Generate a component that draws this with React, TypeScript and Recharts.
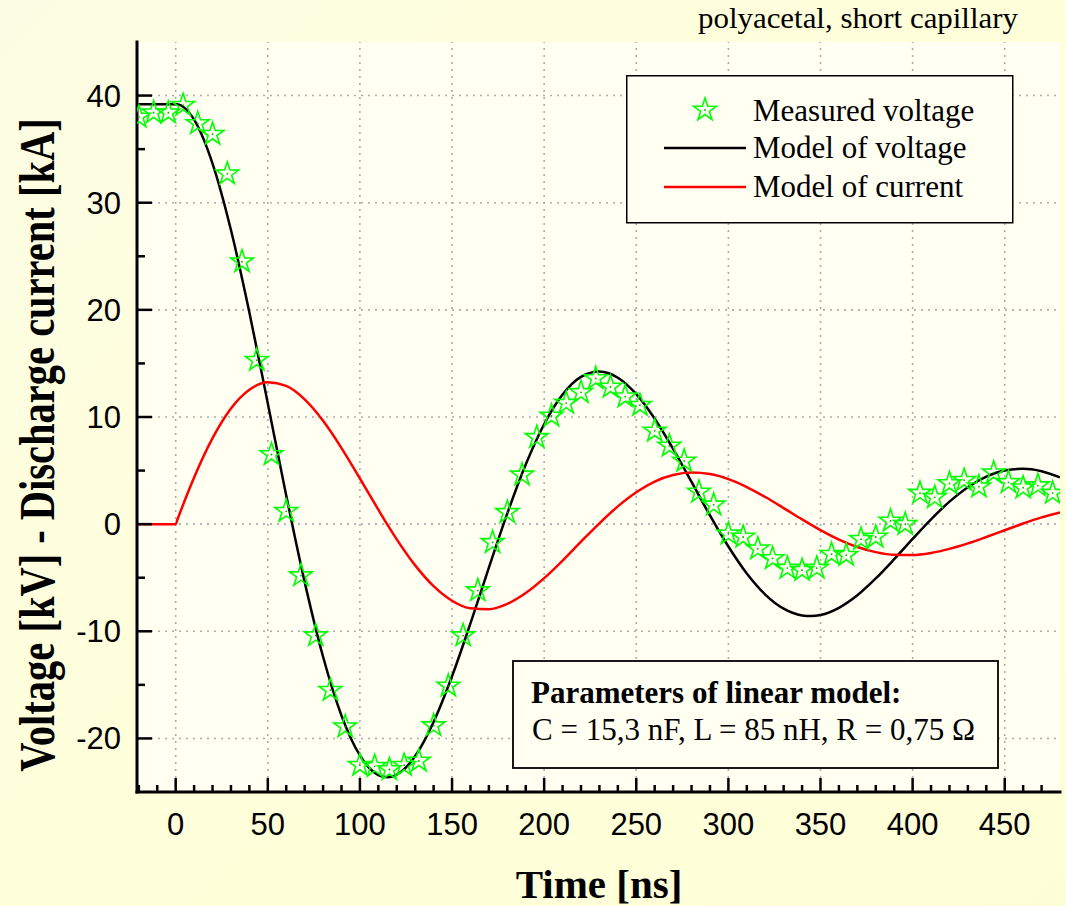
import React from "react";
import {
  ComposedChart,
  Line,
  Scatter,
  XAxis,
  YAxis,
  CartesianGrid,
  ReferenceLine,
  Legend,
  Label,
} from "recharts";

// measured capacitor voltage (oscilloscope samples, 8 ns apart)
const measuredTime = [
  -20, -12, -4, 4, 12, 20, 28, 36, 44, 52, 60, 68, 76, 84, 92, 100, 108, 116, 124, 132, 140, 148,
  156, 164, 172, 180, 188, 196, 204, 212, 220, 228, 236, 244, 252, 260, 268, 276, 284, 292, 300,
  308, 316, 324, 332, 340, 348, 356, 364, 372, 380, 388, 396, 404, 412, 420, 428, 436, 444, 452,
  460, 468, 476,
];
const measuredVoltage = [
  38.0, 38.4, 38.4, 39.1, 37.4, 36.4, 32.7, 24.5, 15.3, 6.5, 1.2, -4.8, -10.4, -15.5, -18.9, -22.5,
  -22.6, -22.9, -22.5, -22.1, -18.8, -15.1, -10.4, -6.2, -1.7, 1.1, 4.6, 8.1, 10.1, 11.3, 12.3, 13.6,
  12.8, 11.9, 11.1, 8.7, 7.3, 5.9, 3.0, 1.8, -0.9, -1.2, -2.3, -3.2, -4.1, -4.3, -4.1, -2.8, -2.9,
  -1.4, -1.2, 0.3, 0.0, 2.9, 2.5, 3.8, 4.1, 3.5, 4.8, 3.9, 3.4, 3.6, 2.9,
];

// linear RLC model curves
const modelTime = [
  -21, 0, 1, 5, 10, 20, 30, 40, 50, 60, 70, 80, 90, 100, 110, 115, 120, 130, 140, 150, 160, 170,
  180, 190, 200, 210, 220, 230, 240, 250, 260, 270, 280, 290, 300, 310, 320, 330, 340, 345, 350,
  360, 370, 380, 390, 400, 410, 420, 430, 440, 450, 460, 470, 480,
];
const modelVoltage = [
  39.2, 39.2, 39.19, 38.83, 37.75, 33.65, 27.45, 19.76, 11.27, 2.68, -5.39, -12.38, -17.87, -21.59,
  -23.42, -23.63, -23.38, -21.64, -18.46, -14.2, -9.26, -4.06, 1.0, 5.56, 9.32, 12.09, 13.74, 14.24,
  13.66, 12.13, 9.84, 7.03, 3.94, 0.82, -2.09, -4.61, -6.57, -7.89, -8.52, -8.58, -8.48, -7.81,
  -6.64, -5.07, -3.27, -1.38, 0.45, 2.1, 3.45, 4.43, 5.01, 5.17, 4.94, 4.37,
];
const modelCurrent = [
  0, 0, 0.46, 2.25, 4.36, 8.03, 10.8, 12.55, 13.24, 12.9, 11.64, 9.64, 7.1, 4.26, 1.35, -0.07,
  -1.42, -3.85, -5.79, -7.15, -7.86, -7.94, -7.44, -6.43, -5.04, -3.4, -1.64, 0.08, 1.66, 2.98, 3.97,
  4.58, 4.81, 4.67, 4.2, 3.46, 2.53, 1.5, 0.44, -0.07, -0.56, -1.44, -2.13, -2.61, -2.86, -2.88,
  -2.69, -2.31, -1.8, -1.2, -0.57, 0.06, 0.63, 1.1,
];

const xTicks = [
  -20, -10, 0, 10, 20, 30, 40, 50, 60, 70, 80, 90, 100, 110, 120, 130, 140, 150, 160, 170, 180, 190,
  200, 210, 220, 230, 240, 250, 260, 270, 280, 290, 300, 310, 320, 330, 340, 350, 360, 370, 380,
  390, 400, 410, 420, 430, 440, 450, 460, 470,
];
const xMajor = [0, 50, 100, 150, 200, 250, 300, 350, 400, 450];
const yTicks = [-20, -15, -10, -5, 0, 5, 10, 15, 20, 25, 30, 35, 40];
const yMajor = [-20, -10, 0, 10, 20, 30, 40];

const measuredData = measuredTime.map((t, i) => ({ t, v: measuredVoltage[i] }));
const modelData = modelTime.map((t, i) => ({ t, voltage: modelVoltage[i], current: modelCurrent[i] }));

const SANS = "'Liberation Sans', Arial, sans-serif";
const SERIF = "'Liberation Serif', 'Times New Roman', serif";
const PLOT_BG = "#fffff2";
const GREEN = "#00ff00";
const X_DOMAIN = [-21, 480];
const Y_DOMAIN = [-25, 45];

function starPoints(cx: number, cy: number, R = 12, r = 4.6) {
  const pts: string[] = [];
  for (let k = 0; k < 10; k++) {
    const a = (-90 + k * 36) * (Math.PI / 180);
    const rad = k % 2 === 0 ? R : r;
    pts.push(`${cx + rad * Math.cos(a)},${cy + rad * Math.sin(a)}`);
  }
  return pts.join(" ");
}

const StarGlyph = ({ cx, cy }: { cx: number; cy: number }) => (
  <g>
    <polygon points={starPoints(cx, cy)} fill="none" stroke={GREEN} strokeWidth={1.6} />
    <circle cx={cx} cy={cy} r={0.9} fill="#00b000" />
  </g>
);

const StarShape = (props: any) => {
  const { cx, cy } = props;
  if (cx == null || cy == null) return null;
  return <StarGlyph cx={cx} cy={cy} />;
};

// inward ticks: long at majors, short at minors
const BottomTick = ({ x, y, payload }: any) => {
  const major = payload.value % 50 === 0;
  return (
    <g>
      <line x1={x} y1={y} x2={x} y2={y - (major ? 14 : 7)} stroke="#000" strokeWidth={2.5} />
      {major && (
        <text x={x} y={y + 43} textAnchor="middle" fontSize={31} fontFamily={SANS} fill="#000">
          {payload.value}
        </text>
      )}
    </g>
  );
};

const TopTick = ({ x, y, payload }: any) => {
  const major = payload.value % 50 === 0;
  return <line x1={x} y1={y} x2={x} y2={y + (major ? 14 : 7)} stroke="#000" strokeWidth={2.5} />;
};

const LeftTick = ({ x, y, payload }: any) => {
  const major = payload.value % 10 === 0;
  return (
    <g>
      <line x1={x} y1={y} x2={x + (major ? 15 : 8)} y2={y} stroke="#000" strokeWidth={2.5} />
      {major && (
        <text x={x - 16} y={y + 11} textAnchor="end" fontSize={31} fontFamily={SANS} fill="#000">
          {payload.value}
        </text>
      )}
    </g>
  );
};

const RightTick = ({ x, y, payload }: any) => {
  const major = payload.value % 10 === 0;
  return <line x1={x} y1={y} x2={x - (major ? 15 : 8)} y2={y} stroke="#000" strokeWidth={2.5} />;
};

const LegendBox = () => (
  <svg width={388} height={149} style={{ display: "block" }}>
    <rect x={0.75} y={0.75} width={386} height={147} fill={PLOT_BG} stroke="#000" strokeWidth={1.5} />
    <StarGlyph cx={79} cy={35} />
    <text x={127} y={46} fontSize={31} fontFamily={SERIF} fill="#000">Measured voltage</text>
    <line x1={38} x2={120} y1={73} y2={73} stroke="#000" strokeWidth={2.5} />
    <text x={127} y={83} fontSize={31} fontFamily={SERIF} fill="#000">Model of voltage</text>
    <line x1={38} x2={120} y1={112} y2={112} stroke="#ff0000" strokeWidth={2.5} />
    <text x={127} y={122} fontSize={31} fontFamily={SERIF} fill="#000">Model of current</text>
  </svg>
);

const axisLine = { stroke: "#000", strokeWidth: 3, strokeLinecap: "square" as const };
const gridStyle = { stroke: "#acacac", strokeWidth: 1.6, strokeDasharray: "2 5" };

export default function App() {
  return (
    <div
      style={{
        position: "absolute",
        left: 0,
        top: 0,
        width: 1066,
        height: 906,
        background: "linear-gradient(135deg, #fcfce4 0%, #ffffdb 45%, #fefed6 100%)",
      }}
    >
      <ComposedChart
        width={1066}
        height={906}
        data={modelData}
        margin={{ top: 42, right: 6, left: 77, bottom: 74 }}
      >
        <CartesianGrid
          xAxisId="x"
          yAxisId="y"
          fill={PLOT_BG}
          fillOpacity={1}
          horizontal={false}
          vertical={false}
        />
        <XAxis
          xAxisId="x"
          dataKey="t"
          type="number"
          domain={X_DOMAIN}
          allowDataOverflow
          ticks={xTicks}
          interval={0}
          tick={<BottomTick />}
          tickLine={false}
          tickSize={0}
          tickMargin={0}
          axisLine={axisLine}
          height={40}
        >
          <Label
            content={() => (
              <text x={599} y={898} textAnchor="middle" fontSize={41} fontWeight="bold" fontFamily={SERIF} fill="#000">
                Time [ns]
              </text>
            )}
          />
        </XAxis>
        <XAxis
          xAxisId="xt"
          orientation="top"
          dataKey="t"
          type="number"
          domain={X_DOMAIN}
          allowDataOverflow
          ticks={xTicks}
          interval={0}
          tick={<TopTick />}
          tickLine={false}
          tickSize={0}
          tickMargin={0}
          axisLine={axisLine}
          height={0}
        />
        <YAxis
          yAxisId="y"
          type="number"
          domain={Y_DOMAIN}
          allowDataOverflow
          ticks={yTicks}
          interval={0}
          tick={<LeftTick />}
          tickLine={false}
          tickSize={0}
          tickMargin={0}
          axisLine={axisLine}
          width={60}
        >
          <Label
            content={() => (
              <text
                transform="translate(54,445) rotate(-90) scale(0.81,1)"
                textAnchor="middle"
                fontSize={50}
                fontWeight="bold"
                fontFamily={SERIF}
                fill="#000"
              >
                Voltage [kV] - Discharge current [kA]
              </text>
            )}
          />
        </YAxis>
        <YAxis
          yAxisId="yr"
          orientation="right"
          type="number"
          domain={Y_DOMAIN}
          allowDataOverflow
          ticks={yTicks}
          interval={0}
          tick={<RightTick />}
          tickLine={false}
          tickSize={0}
          tickMargin={0}
          axisLine={axisLine}
          width={0}
        />
        {xMajor.map((v) => (
          <ReferenceLine key={`gx${v}`} xAxisId="x" yAxisId="y" x={v} {...gridStyle} />
        ))}
        {yMajor.map((v) => (
          <ReferenceLine key={`gy${v}`} xAxisId="x" yAxisId="y" y={v} {...gridStyle} />
        ))}
        <Legend
          layout="vertical"
          align="center"
          verticalAlign="middle"
          content={() => <LegendBox />}
          wrapperStyle={{ left: 626, top: 75, width: 388, height: 149 }}
        />
        <Scatter
          xAxisId="x"
          yAxisId="y"
          name="Measured voltage"
          data={measuredData}
          dataKey="v"
          shape={<StarShape />}
          isAnimationActive={false}
        />
        <Line
          xAxisId="x"
          yAxisId="y"
          name="Model of voltage"
          type="monotone"
          dataKey="voltage"
          stroke="#000"
          strokeWidth={2.5}
          dot={false}
          activeDot={false}
          isAnimationActive={false}
        />
        <Line
          xAxisId="x"
          yAxisId="y"
          name="Model of current"
          type="monotone"
          dataKey="current"
          stroke="#ff0000"
          strokeWidth={2.5}
          dot={false}
          activeDot={false}
          isAnimationActive={false}
        />
      </ComposedChart>
      <svg
        width={1066}
        height={906}
        style={{ position: "absolute", left: 0, top: 0, pointerEvents: "none" }}
      >
        <text x={698} y={28} fontSize={30} fontFamily={SERIF} fill="#000" textLength={320} lengthAdjust="spacingAndGlyphs">
          polyacetal, short capillary
        </text>
        <rect x={513} y={661} width={485} height={107} fill={PLOT_BG} stroke="#000" strokeWidth={1.8} />
        <text x={531} y={703} fontSize={31} fontWeight="bold" fontFamily={SERIF} fill="#000">
          Parameters of linear model:
        </text>
        <text x={532} y={740} fontSize={31} fontFamily={SERIF} fill="#000">
          C = 15,3 nF, L = 85 nH, R = 0,75 Ω
        </text>
      </svg>
    </div>
  );
}
